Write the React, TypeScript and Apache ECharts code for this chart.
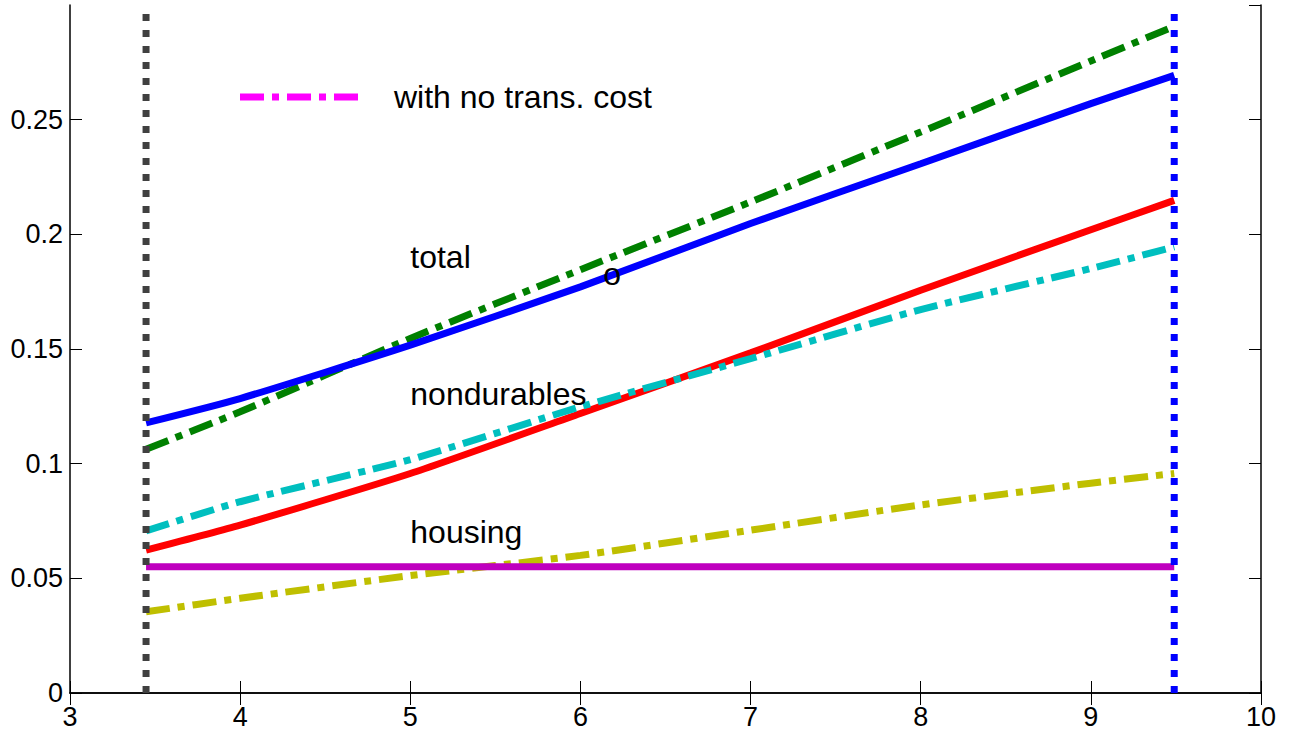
import { useEffect, useRef } from "react";
import * as echarts from "echarts";

// Sample points along the horizontal axis (from the lower bound to the upper bound)
const xValues = [3.447, 4, 5, 6, 7, 8, 9, 9.49];

// Shares with transaction cost (solid lines)
const totalShare = [0.1178, 0.1284, 0.1517, 0.1771, 0.2047, 0.2308, 0.257, 0.2693];
const nondurablesShare = [0.0623, 0.0732, 0.0957, 0.1219, 0.1483, 0.1756, 0.202, 0.2148];
const housingShare = [0.055, 0.055, 0.055, 0.055, 0.055, 0.055, 0.055, 0.055];

// Shares with no transaction cost (dash-dot lines)
const totalNoCost = [0.1063, 0.1226, 0.1546, 0.1846, 0.2141, 0.2446, 0.2756, 0.2907];
const nondurablesNoCost = [0.0707, 0.0834, 0.1018, 0.1248, 0.1458, 0.1672, 0.1851, 0.1945];
const housingNoCost = [0.0354, 0.0413, 0.0512, 0.06, 0.071, 0.082, 0.0915, 0.0957];

// Bounds of the inaction region (vertical dotted lines)
const lowerBound = 3.447;
const upperBound = 9.49;

// Axis ranges
const xMin = 3;
const xMax = 10;
const xStep = 1;
const yMin = 0;
const yMax = 0.3;
const yStep = 0.05;

// In-plot text annotations: [text, x, y]
const annotations: [string, number, number][] = [
  ["total", 5.0, 0.19],
  ["nondurables", 5.0, 0.1303],
  ["housing", 5.0, 0.0702],
];
const marker: [string, number, number] = ["o", 6.187, 0.1822];

const legendLabel = "with no trans. cost";

const FONT = "'Liberation Sans', Arial, Helvetica, sans-serif";
const DASH_DOT = [24, 8, 7, 8];
const DOTS = [7, 9];
const LINE_W = 7;
const TEXT_SIZE = 32;

const pairs = (ys: number[]) => xValues.map((x, i) => [x, ys[i]]);

export default function App() {
  const ref = useRef<HTMLDivElement>(null);

  useEffect(() => {
    if (!ref.current) return;
    const chart = echarts.init(ref.current, null, { renderer: "svg" });

    const axisLine = { show: true, lineStyle: { color: "#000", width: 1.5 } };
    const axisTick = { show: true, inside: true, length: 12, lineStyle: { color: "#000", width: 1 } };

    const solid = (name: string, ys: number[], color: string) => ({
      name,
      type: "line",
      data: pairs(ys),
      symbol: "none",
      smooth: 0.2,
      lineStyle: { color, width: LINE_W, type: "solid" },
      z: 3,
    });
    const dashDot = (name: string, ys: number[], color: string) => ({
      name,
      type: "line",
      data: pairs(ys),
      symbol: "none",
      smooth: 0.2,
      lineStyle: { color, width: LINE_W, type: DASH_DOT, cap: "butt" },
      z: 3,
    });
    const bound = (name: string, x: number, color: string) => ({
      name,
      type: "line",
      data: [
        [x, yMin],
        [x, yMax],
      ],
      symbol: "none",
      lineStyle: { color, width: 7, type: DOTS, cap: "butt" },
      z: 5,
    });
    const textLabel = {
      show: true,
      formatter: "{b}",
      color: "#000",
      opacity: 1,
      fontSize: TEXT_SIZE,
      fontFamily: FONT,
      verticalAlign: "middle",
    };

    chart.setOption({
      animation: false,
      backgroundColor: "#fff",
      textStyle: { fontFamily: FONT },
      grid: { left: 70, right: 28, top: 5, bottom: 38, containLabel: false },
      graphic: [
        {
          type: "line",
          shape: { x1: 240, y1: 97, x2: 359, y2: 97 },
          style: { stroke: "#ff00ff", lineWidth: LINE_W, lineDash: DASH_DOT, lineCap: "butt" },
          z: 10,
        },
        {
          type: "text",
          x: 394,
          y: 97,
          style: {
            text: legendLabel,
            fill: "#000",
            font: `${TEXT_SIZE}px ${FONT}`,
            textVerticalAlign: "middle",
            verticalAlign: "middle",
          },
          z: 10,
        },
      ],
      xAxis: [
        {
          type: "value",
          min: xMin,
          max: xMax,
          interval: xStep,
          position: "bottom",
          axisLine,
          axisTick,
          splitLine: { show: false },
          axisLabel: { color: "#000", fontSize: 27, fontFamily: FONT, margin: 10 },
        },
        {
          type: "value",
          min: xMin,
          max: xMax,
          interval: xStep,
          position: "top",
          axisLine,
          axisTick,
          splitLine: { show: false },
          axisLabel: { show: false },
        },
      ],
      yAxis: [
        {
          type: "value",
          min: yMin,
          max: yMax,
          interval: yStep,
          position: "left",
          axisLine,
          axisTick,
          splitLine: { show: false },
          axisLabel: { color: "#000", fontSize: 27, fontFamily: FONT, margin: 7, showMaxLabel: false },
        },
        {
          type: "value",
          min: yMin,
          max: yMax,
          interval: yStep,
          position: "right",
          axisLine,
          axisTick,
          splitLine: { show: false },
          axisLabel: { show: false },
        },
      ],
      series: [
        dashDot("total, no cost", totalNoCost, "#008000"),
        solid("total", totalShare, "#0000ff"),
        solid("nondurables", nondurablesShare, "#ff0000"),
        dashDot("nondurables, no cost", nondurablesNoCost, "#00bfbf"),
        dashDot("housing, no cost", housingNoCost, "#bfbf00"),
        solid("housing", housingShare, "#bf00bf"),
        bound("lower bound", lowerBound, "#404040"),
        bound("upper bound", upperBound, "#0000ff"),
        {
          name: "annotations",
          type: "scatter",
          symbolSize: 0,
          silent: true,
          z: 6,
          itemStyle: { opacity: 1 },
          data: annotations.map(([t, x, y]) => ({ name: t, value: [x, y] })),
          label: { ...textLabel, position: "right", distance: 0, align: "left" },
        },
        {
          name: "marker",
          type: "scatter",
          symbolSize: 0,
          silent: true,
          z: 6,
          itemStyle: { opacity: 1 },
          data: [{ name: marker[0], value: [marker[1], marker[2]] }],
          label: { ...textLabel, position: "inside", align: "center", offset: [0, -1] },
        },
      ],
    });

    return () => chart.dispose();
  }, []);

  return (
    <div
      ref={ref}
      style={{ position: "fixed", left: 0, top: 0, width: 1289, height: 731, background: "#fff" }}
    />
  );
}
